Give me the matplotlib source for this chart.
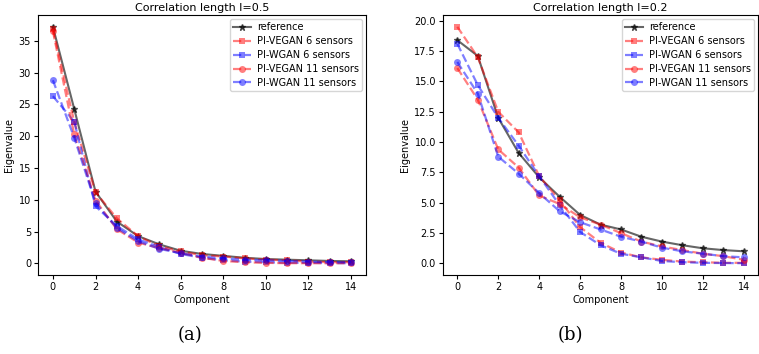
import matplotlib
matplotlib.use("Agg")
import matplotlib.pyplot as plt
import numpy as np

components = list(range(15))

# Correlation length l=0.5
ref_05 = [37.2, 24.3, 11.3, 6.6, 4.3, 3.0, 2.0, 1.5, 1.2, 0.9, 0.7, 0.6, 0.5, 0.4, 0.35]
vegan6_05 = [36.8, 22.3, 11.2, 7.1, 4.3, 2.7, 1.9, 1.3, 1.1, 0.8, 0.6, 0.5, 0.3, 0.2, 0.2]
wgan6_05 = [26.3, 22.3, 9.0, 5.9, 3.8, 2.6, 1.5, 0.9, 0.5, 0.3, 0.2, 0.1, 0.1, 0.05, 0.05]
vegan11_05 = [36.5, 20.3, 9.9, 5.4, 3.3, 2.4, 1.7, 0.9, 0.4, 0.2, 0.1, 0.05, 0.05, 0.05, 0.05]
wgan11_05 = [28.8, 19.8, 9.5, 5.6, 3.5, 2.3, 1.6, 1.1, 0.8, 0.6, 0.5, 0.4, 0.3, 0.2, 0.2]

# Correlation length l=0.2
ref_02 = [18.4, 17.1, 12.0, 9.1, 7.1, 5.5, 4.0, 3.2, 2.8, 2.2, 1.8, 1.5, 1.25, 1.1, 1.0]
vegan6_02 = [19.5, 17.0, 12.5, 10.8, 7.2, 5.2, 3.0, 1.7, 0.9, 0.5, 0.3, 0.15, 0.1, 0.05, 0.05]
wgan6_02 = [18.1, 14.7, 12.0, 9.7, 7.2, 4.8, 2.6, 1.5, 0.8, 0.5, 0.2, 0.1, 0.05, 0.03, 0.02]
vegan11_02 = [16.1, 13.5, 9.4, 7.9, 5.6, 4.9, 3.8, 3.2, 2.5, 1.8, 1.4, 1.1, 0.8, 0.6, 0.3]
wgan11_02 = [16.6, 14.0, 8.8, 7.4, 5.8, 4.3, 3.4, 2.8, 2.2, 1.8, 1.3, 1.0, 0.8, 0.6, 0.5]

titles = ["Correlation length l=0.5", "Correlation length l=0.2"]
captions = ["(a)", "(b)"]
labels = ["reference", "PI-VEGAN 6 sensors", "PI-WGAN 6 sensors",
          "PI-VEGAN 11 sensors", "PI-WGAN 11 sensors"]

fig = plt.figure(figsize=(7.59, 3.54), dpi=100)
ax1 = fig.add_axes([38/759, 1-275/354, (366-38)/759, 260/354])
ax2 = fig.add_axes([443/759, 1-275/354, (758-443)/759, 260/354])

datasets = [
    (ref_05, vegan6_05, wgan6_05, vegan11_05, wgan11_05),
    (ref_02, vegan6_02, wgan6_02, vegan11_02, wgan11_02),
]

for ax, data, title in zip([ax1, ax2], datasets, titles):
    ref, v6, w6, v11, w11 = data
    ax.plot(components, ref, color="black", alpha=0.6, marker="*", markersize=5, lw=1.5, label=labels[0])
    ax.plot(components, v6, color="red", alpha=0.5, marker="s", markersize=5, mew=0, ls="--", lw=1.6, label=labels[1])
    ax.plot(components, w6, color="blue", alpha=0.5, marker="s", markersize=5, mew=0, ls="--", lw=1.6, label=labels[2])
    ax.plot(components, v11, color="red", alpha=0.5, marker="o", markersize=5, mew=0, ls="--", lw=1.6, label=labels[3])
    ax.plot(components, w11, color="blue", alpha=0.5, marker="o", markersize=5, mew=0, ls="--", lw=1.6, label=labels[4])
    ax.set_xticks(range(0, 15, 2))
    ax.set_title(title, fontsize=8, pad=3)
    ax.set_xlabel("Component", fontsize=7, labelpad=2)
    ax.set_ylabel("Eigenvalue", fontsize=7, labelpad=3)
    ax.tick_params(labelsize=7, length=3, pad=2)
    ax.legend(fontsize=7, loc="upper right", handlelength=1.8, borderpad=0.35,
              labelspacing=0.4, handletextpad=0.6, borderaxespad=0.4)

ax2.set_yticks(np.arange(0, 20.1, 2.5))

fig.text(190/759, 1-335/354, captions[0], fontsize=13, family="DejaVu Serif", ha="center", va="center")
fig.text(570/759, 1-335/354, captions[1], fontsize=13, family="DejaVu Serif", ha="center", va="center")

fig.savefig("out.png", dpi=100)
